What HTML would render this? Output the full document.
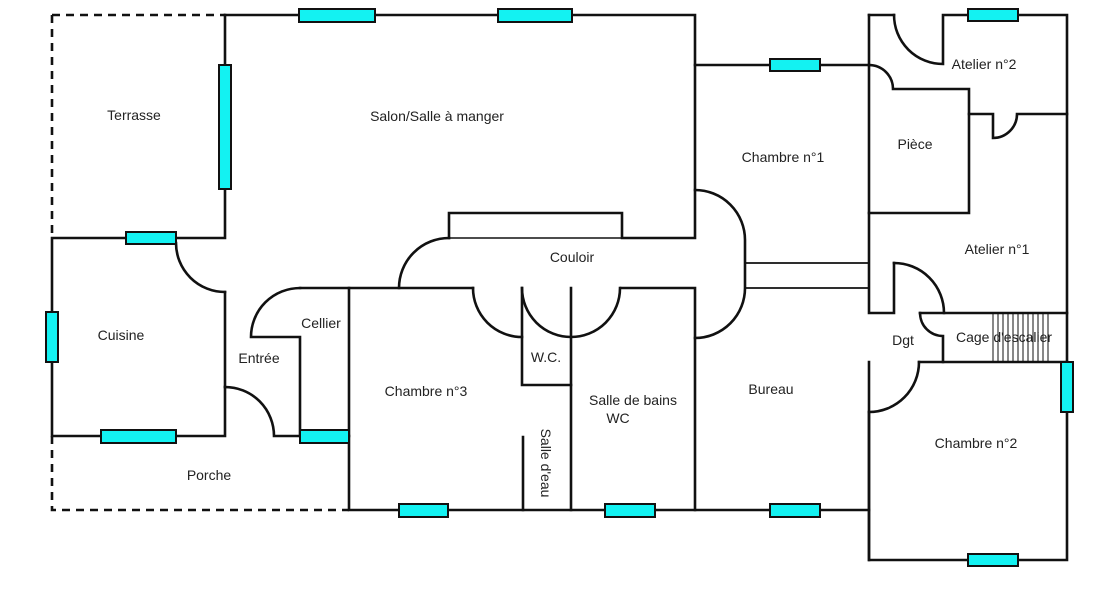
<!DOCTYPE html>
<html><head><meta charset="utf-8"><style>
html,body{margin:0;padding:0;background:#fff;}
svg{display:block;}
text{font-family:"Liberation Sans",Arial,sans-serif;font-size:14px;fill:#222;}
</style></head><body>
<svg width="1100" height="601" viewBox="0 0 1100 601" xmlns="http://www.w3.org/2000/svg">
<g fill="none" stroke="#111" stroke-width="2.6" stroke-linecap="square">
<!-- dashed outlines -->
<path d="M52,15 H225 M52,15 V238 M52,436 V510 H349" stroke-dasharray="8,6" stroke-linecap="butt"/>
<!-- terrasse / salon -->
<path d="M225,15 H695 V238 H622 V213 H449 V238"/>
<path d="M225,15 V238 H52 V436 H225 V387"/>
<path d="M225,292 V387"/>
<path d="M176,243 A49,49 0 0 0 225,292"/>
<path d="M225,387 A49,49 0 0 1 274,436 H300"/>
<!-- corridor -->
<path d="M449,238 H622" stroke-width="1.6"/>
<path d="M449,238 A50,50 0 0 0 399,288"/>
<path d="M300,288 H473"/>
<path d="M300,288 A49,49 0 0 0 251,337 H300 V436 H349"/>
<path d="M349,288 V510 H869"/>
<path d="M473,288 A49,49 0 0 0 522,337"/>
<path d="M522,288 V385 H571"/>
<path d="M522,288 A49,49 0 0 0 620,288"/>
<path d="M571,288 V510"/>
<path d="M523,437 V510"/>
<path d="M621,288 H695 V510"/>
<path d="M695,190 A50,50 0 0 1 745,240 V288 A50,50 0 0 1 695,338"/>
<path d="M745,263 H869 M745,288 H869" stroke-width="1.8"/>
<!-- chambre 1 -->
<path d="M695,65 H869"/>
<path d="M869,15 V313 H894 V263"/>
<path d="M894,263 A50,50 0 0 1 944,313"/>
<path d="M869,15 H894"/>
<path d="M894,15 A49,49 0 0 0 943,64 V15 H1067 V560 H869 V362"/>
<path d="M869,65 A24,24 0 0 1 893,89 H969 V213 H869"/>
<path d="M969,114 H993 V138 A24,24 0 0 0 1017,114 H1067"/>
<!-- cage / dgt -->
<path d="M920,313 H1067 M919,362 H1067"/>
<path d="M920,313 A23,23 0 0 0 943,336 V362"/>
<path d="M869,412 A50,50 0 0 0 919,362"/>
<path d="M869,412 V560"/>
</g>
<!-- stairs -->
<g stroke="#111" stroke-width="1">
<path d="M993,313V362M998,313V362M1003,313V362M1008,313V362M1013,313V362M1018,313V362M1023,313V362M1028,313V362M1033,313V362M1038,313V362M1043,313V362M1048,313V362"/>
</g>
<!-- windows -->
<g fill="#13f2f2" stroke="#111" stroke-width="2">
<rect x="299" y="9" width="76" height="13"/>
<rect x="498" y="9" width="74" height="13"/>
<rect x="219" y="65" width="12" height="124"/>
<rect x="126" y="232" width="50" height="12"/>
<rect x="46" y="312" width="12" height="50"/>
<rect x="101" y="430" width="75" height="13"/>
<rect x="300" y="430" width="49" height="13"/>
<rect x="399" y="504" width="49" height="13"/>
<rect x="605" y="504" width="50" height="13"/>
<rect x="770" y="504" width="50" height="13"/>
<rect x="770" y="59" width="50" height="12"/>
<rect x="968" y="9" width="50" height="12"/>
<rect x="1061" y="362" width="12" height="50"/>
<rect x="968" y="554" width="50" height="12"/>
</g>
<g text-anchor="middle">
<text x="134" y="120">Terrasse</text>
<text x="437" y="121">Salon/Salle à manger</text>
<text x="783" y="162">Chambre n°1</text>
<text x="915" y="149">Pièce</text>
<text x="984" y="69">Atelier n°2</text>
<text x="997" y="254">Atelier n°1</text>
<text x="572" y="262">Couloir</text>
<text x="121" y="340">Cuisine</text>
<text x="259" y="363">Entrée</text>
<text x="321" y="328">Cellier</text>
<text x="426" y="396">Chambre n°3</text>
<text x="546" y="362">W.C.</text>
<text x="633" y="405">Salle de bains</text>
<text x="618" y="423">WC</text>
<text x="771" y="394">Bureau</text>
<text x="903" y="345">Dgt</text>
<text x="1004" y="342">Cage d'escalier</text>
<text x="976" y="448">Chambre n°2</text>
<text x="209" y="480">Porche</text>
<text transform="translate(541,448) rotate(90)" x="15" y="0">Salle d'eau</text>
</g>
</svg>
</body></html>
